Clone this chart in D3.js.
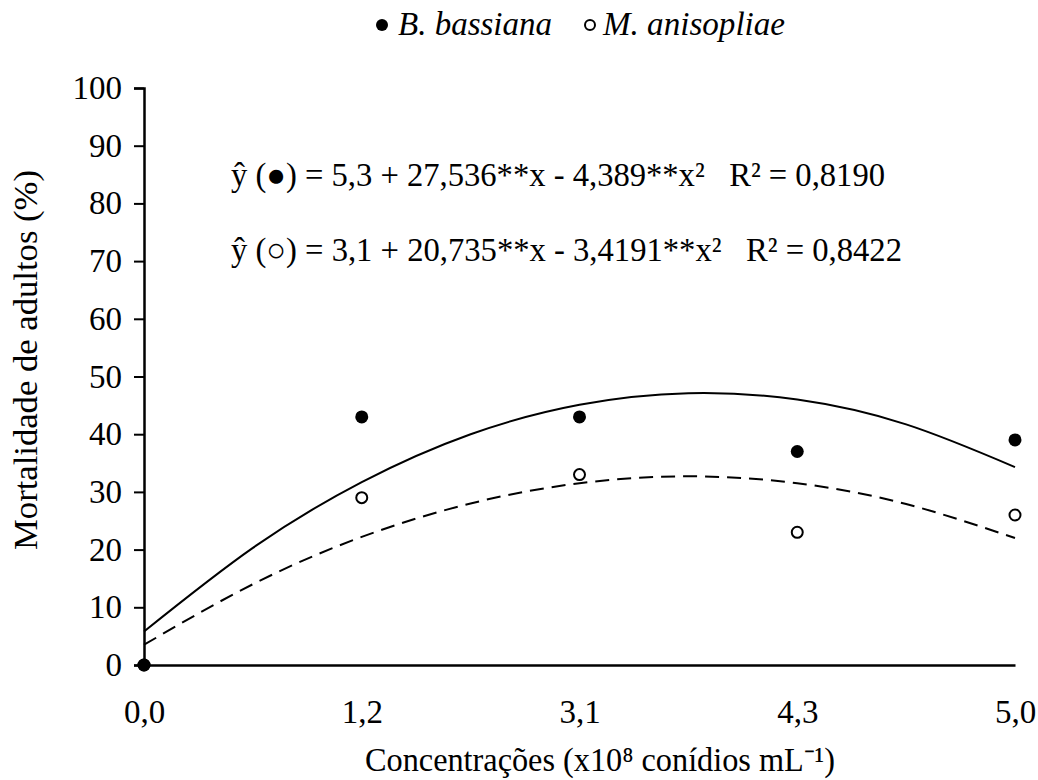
<!DOCTYPE html>
<html>
<head>
<meta charset="utf-8">
<script src="https://cdn.jsdelivr.net/npm/d3@7"></script>
</head>
<body style="margin:0">
<div id="chart"></div>
<script>
// categories on the x axis (evenly spaced, like a category axis)
var concentrations = ["0,0", "1,2", "3,1", "4,3", "5,0"];

// observed mortality (%)
var bassiana = [0, 43, 43, 37, 39];
var anisopliae = [0, 29, 33, 23, 26];

// fitted curves, at half-category steps
var curveSteps = [0, 0.5, 1, 1.5, 2, 2.5, 3, 3.5, 4];
var bassianaFit = [5.8, 20.3, 31.7, 40.0, 45.1, 47.1, 46.0, 41.7, 34.3];
var anisopliaeFit = [3.5, 14.0, 22.2, 28.0, 31.5, 32.7, 31.5, 27.9, 22.0];

var yTicks = [0, 10, 20, 30, 40, 50, 60, 70, 80, 90, 100];

var serif = "'Liberation Serif', Tinos, 'Times New Roman', serif";
var fs = "33px";

var margin = {top: 88, right: 23, bottom: 115, left: 144},
    width = 1038 - margin.left - margin.right,
    height = 780 - margin.top - margin.bottom;

var root = d3.select("#chart")
  .append("svg")
    .attr("width", 1038)
    .attr("height", 780)
    .style("font-family", serif)

var svg = root.append("g")
    .attr("transform", "translate(" + margin.left + "," + margin.top + ")")

// scales
var x = d3.scaleLinear()
  .domain([0, concentrations.length - 1])
  .range([0, width])

var y = d3.scaleLinear()
  .domain([0, 100])
  .range([height, 0])

// Y axis
var yAxis = svg.append("g")
  .call(d3.axisLeft(y).tickValues(yTicks).tickSize(10).tickPadding(12))
yAxis.attr("font-family", null)
yAxis.select(".domain").attr("stroke-width", 2.5)
yAxis.selectAll(".tick line").attr("stroke-width", 2)
yAxis.selectAll(".tick text")
  .style("font-family", serif)
  .style("font-size", fs)

// X axis
var xAxis = svg.append("g")
  .attr("transform", "translate(0," + height + ")")
  .call(d3.axisBottom(x).tickValues(d3.range(concentrations.length))
    .tickFormat(function (d) { return concentrations[d]; })
    .tickSize(0).tickPadding(35).tickSizeOuter(0))
xAxis.attr("font-family", null)
xAxis.select(".domain").attr("stroke-width", 2.5)
xAxis.selectAll(".tick text")
  .style("font-family", serif)
  .style("font-size", fs)

// fitted curves
var line = d3.line()
  .x(function (d) { return x(d[0]); })
  .y(function (d) { return y(d[1]); })
  .curve(d3.curveNatural)

svg.append("path")
  .datum(d3.zip(curveSteps, bassianaFit))
  .attr("d", line)
  .attr("fill", "none")
  .attr("stroke", "black")
  .attr("stroke-width", 2)

svg.append("path")
  .datum(d3.zip(curveSteps, anisopliaeFit))
  .attr("d", line)
  .attr("fill", "none")
  .attr("stroke", "black")
  .attr("stroke-width", 2)
  .attr("stroke-dasharray", "14,8")

// open circles (M. anisopliae)
svg.append("g")
  .selectAll("circle")
  .data(anisopliae)
  .enter()
  .append("circle")
    .attr("cx", function (d, i) { return x(i); })
    .attr("cy", function (d) { return y(d); })
    .attr("r", 5.5)
    .style("fill", "white")
    .style("stroke", "black")
    .style("stroke-width", 2)

// filled circles (B. bassiana)
svg.append("g")
  .selectAll("circle")
  .data(bassiana)
  .enter()
  .append("circle")
    .attr("cx", function (d, i) { return x(i); })
    .attr("cy", function (d) { return y(d); })
    .attr("r", 6.5)
    .style("fill", "black")

// serif text helper
function label(sel, len) {
  return sel.append("text")
    .style("font-family", serif)
    .style("font-size", fs)
    .attr("textLength", len)
    .attr("lengthAdjust", "spacingAndGlyphs")
}

// equations
label(root, 654)
  .attr("x", 231).attr("y", 186)
  .text("ŷ (●) = 5,3 + 27,536**x - 4,389**x²\u00a0\u00a0\u00a0R² = 0,8190")
label(root, 671)
  .attr("x", 231).attr("y", 261)
  .text("ŷ (○) = 3,1 + 20,735**x - 3,4191**x²\u00a0\u00a0\u00a0R² = 0,8422")

// legend
root.append("circle")
  .attr("cx", 382).attr("cy", 25).attr("r", 6)
  .style("fill", "black")
label(root, 154)
  .attr("x", 398).attr("y", 35)
  .style("font-style", "italic")
  .text("B. bassiana")
root.append("circle")
  .attr("cx", 590).attr("cy", 25).attr("r", 5)
  .style("fill", "white").style("stroke", "black").style("stroke-width", 2)
label(root, 182)
  .attr("x", 603).attr("y", 35)
  .style("font-style", "italic")
  .text("M. anisopliae")

// Y axis label
label(root, 380)
  .attr("text-anchor", "middle")
  .attr("transform", "translate(37,360) rotate(-90)")
  .text("Mortalidade de adultos (%)")

// X axis label
label(root, 470)
  .attr("text-anchor", "middle")
  .attr("x", 600)
  .attr("y", 771)
  .text("Concentrações (x10⁸ conídios mL⁻¹)")
</script>
</body>
</html>
